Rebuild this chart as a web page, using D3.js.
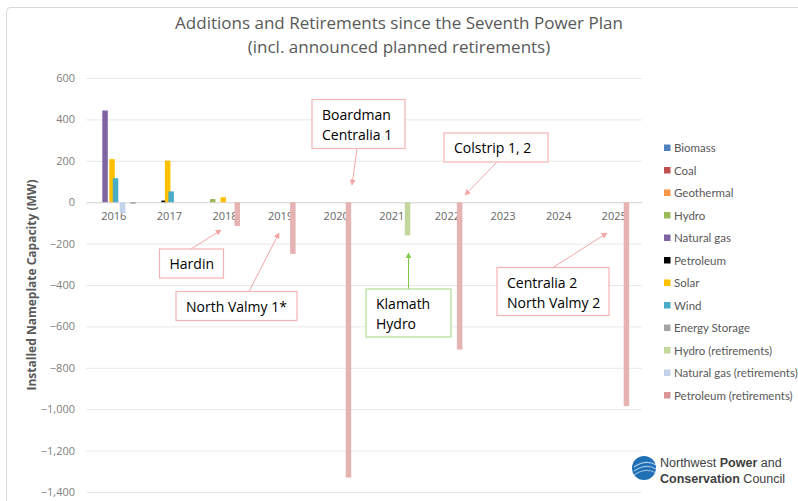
<!DOCTYPE html>
<html>
<head>
<meta charset="utf-8">
<script src="https://cdn.jsdelivr.net/npm/d3@7"></script>
<style>
  body { margin: 0; background: #fff; }
  svg { font-family: "Open Sans", "Noto Sans", sans-serif; }
</style>
</head>
<body>
<div id="chart"></div>
<script>
// years on the category axis
var years = ['2016', '2017', '2018', '2019', '2020', '2021', '2022', '2023', '2024', '2025'];

// legend order
var legendNames = ['Biomass', 'Coal', 'Geothermal', 'Hydro', 'Natural gas', 'Petroleum', 'Solar', 'Wind',
  'Energy Storage', 'Hydro (retirements)', 'Natural gas (retirements)', 'Petroleum (retirements)'];

// order of the bars inside a year (one unlisted empty slot in the original)
var plotOrder = ['Biomass', 'Coal', 'Geothermal', 'Hydro', 'Natural gas', 'Petroleum', 'Solar', 'Wind',
  '(blank)', 'Natural gas (retirements)', 'Petroleum (retirements)', 'Hydro (retirements)', 'Energy Storage'];

var colors = ['#4f81bd', '#c0504d', '#f79646', '#9bbb59', '#8064a2', '#000000', '#ffc000', '#4bacc6',
  '#a5a5a5', '#c3d69b', '#c5d3ea', '#d99694'];

// MW per year, same order as years
var biomass      = [0, 0, 0, 0, 0, 0, 0, 0, 0, 0];
var coal         = [0, 0, 0, 0, 0, 0, 0, 0, 0, 0];
var geothermal   = [0, 0, 0, 0, 0, 0, 0, 0, 0, 0];
var hydro        = [0, 0, 15, 0, 0, 0, 0, 0, 0, 0];
var naturalGas   = [443, 0, 0, 0, 0, 0, 0, 0, 0, 0];
var petroleum    = [0, 8, 0, 0, 0, 0, 0, 0, 0, 0];
var solar        = [208, 201, 24, 0, 0, 0, 0, 0, 0, 0];
var wind         = [116, 52, 0, 0, 0, 0, 0, 0, 0, 0];
var storage      = [-5, 0, 0, 0, 0, 0, 0, 0, 0, 0];
var hydroRet     = [0, 0, 0, 0, 0, -160, 0, 0, 0, 0];
var gasRet       = [-52, 0, 0, 0, 0, 0, 0, 0, 0, 0];
var petroleumRet = [0, 0, -115, -250, -1330, 0, -712, 0, 0, -985];

var seriesValues = [biomass, coal, geothermal, hydro, naturalGas, petroleum, solar, wind,
  storage, hydroRet, gasRet, petroleumRet];

var yTicks = [600, 400, 200, 0, -200, -400, -600, -800, -1000, -1200, -1400];

var titleLines = ['Additions and Retirements since the Seventh Power Plan', '(incl. announced planned retirements)'];
var yTitle = 'Installed Nameplate Capacity (MW)';

// callout boxes: label lines, the year they point at
var callouts = [
  { lines: ['Boardman', 'Centralia 1'], year: '2020', color: '#f4b4b4' },
  { lines: ['Colstrip 1, 2'], year: '2022', color: '#f4b4b4' },
  { lines: ['Hardin'], year: '2018', color: '#f4b4b4' },
  { lines: ['North Valmy 1*'], year: '2019', color: '#f4b4b4' },
  { lines: ['Klamath', 'Hydro'], year: '2021', color: '#b4dc96' },
  { lines: ['Centralia 2', 'North Valmy 2'], year: '2025', color: '#f4b4b4' }
];

var W = 798, H = 501;
var svg = d3.select('#chart').append('svg').attr('width', W).attr('height', H);

// outer frame
svg.append('rect').attr('x', 6.5).attr('y', 7.5).attr('width', 820).attr('height', 520)
  .attr('rx', 4).attr('fill', 'none').attr('stroke', '#d9d9d9');

var x = d3.scaleBand().domain(years).range([86, 642]);
var y = d3.scaleLinear().domain([-1400, 600]).range([492, 78]);
var inner = d3.scaleBand().domain(plotOrder).range([-24.5 + x.bandwidth() / 2, 21 + x.bandwidth() / 2]);
var barW = 5.5;

// title
svg.append('g').selectAll('text').data(titleLines).join('text')
  .attr('x', 399).attr('y', function (d, i) { return 29 + i * 24; })
  .attr('text-anchor', 'middle').attr('font-size', 17).attr('fill', '#595959')
  .text(function (d) { return d; });

// gridlines + y labels
var yAxis = svg.append('g').attr('transform', 'translate(86,0)')
  .call(d3.axisLeft(y).tickValues(yTicks).tickSize(-556).tickFormat(d3.format(',')));
yAxis.select('.domain').remove();
yAxis.selectAll('.tick line').attr('stroke', '#e8e8e8');
yAxis.selectAll('.tick text').attr('x', -11).attr('fill', '#808080')
  .style('font-size', '11px').style('font-family', '"Open Sans", sans-serif');

svg.append('text')
  .attr('transform', 'translate(36,285) rotate(-90)')
  .attr('text-anchor', 'middle').attr('font-size', 12).attr('font-weight', 'bold').attr('fill', '#595959')
  .text(yTitle);

// x labels sit just under zero
var xAxis = svg.append('g').attr('transform', 'translate(0,' + y(0) + ')')
  .call(d3.axisBottom(x).tickSize(0).tickPadding(10));
xAxis.select('.domain').attr('stroke', '#d9d9d9');
xAxis.selectAll('.tick text').attr('fill', '#666666')
  .style('font-size', '11px').style('font-family', '"Open Sans", sans-serif');

// bars
var rows = [];
legendNames.forEach(function (name, s) {
  seriesValues[s].forEach(function (v, i) {
    if (v !== 0) rows.push({ name: name, year: years[i], value: v, color: colors[s] });
  });
});
svg.append('g').selectAll('rect').data(rows).join('rect')
  .attr('x', function (d) { return x(d.year) + inner(d.name) + inner.bandwidth() / 2 - barW / 2; })
  .attr('width', barW)
  .attr('y', function (d) { return y(Math.max(0, d.value)); })
  .attr('height', function (d) { return Math.max(1.5, Math.abs(y(d.value) - y(0))); })
  .attr('fill', function (d) {
    return d.name === 'Petroleum (retirements)' ? '#e6b3b3' : d.color;
  });

// legend
var legend = svg.append('g').selectAll('g').data(legendNames).join('g')
  .attr('transform', function (d, i) { return 'translate(664,' + (148 + i * 22.5) + ')'; });
legend.append('rect').attr('x', 0).attr('y', -3.5).attr('width', 6.5).attr('height', 6.5)
  .attr('fill', function (d, i) { return colors[i]; });
legend.append('text').attr('x', 10).attr('y', 4).attr('fill', '#595959')
  .style('font-size', '11.5px').style('font-family', 'Lato, sans-serif')
  .text(function (d) { return d; });

// callouts
svg.append('defs').selectAll('marker').data(['pink', 'green']).join('marker')
  .attr('id', function (d) { return 'arrow-' + d; })
  .attr('viewBox', '0 0 10 10').attr('refX', 9).attr('refY', 5)
  .attr('markerWidth', 6).attr('markerHeight', 6).attr('orient', 'auto')
  .append('path').attr('d', 'M0,0 L10,5 L0,10 z')
  .attr('fill', function (d) { return d === 'pink' ? '#f4a6a6' : '#7ccc44'; });

var boxes = [
  { x0: 312, y0: 99.5, w: 93, h: 49, from: [357, 148.5], to: [352, 185] },
  { x0: 444, y0: 133, w: 104, h: 29, from: [497, 162], to: [465, 195] },
  { x0: 159.5, y0: 249, w: 64, h: 29, from: [191, 249], to: [221, 230] },
  { x0: 176, y0: 291.5, w: 121, h: 29, from: [249, 291.5], to: [279, 233] },
  { x0: 366, y0: 289, w: 85, h: 48, from: [408.5, 289], to: [408.5, 253] },
  { x0: 497, y0: 267.5, w: 112, h: 48, from: [553, 267.5], to: [607, 233] }
];

var cg = svg.append('g').selectAll('g').data(callouts).join('g');
cg.append('line')
  .attr('x1', function (d, i) { return boxes[i].from[0]; })
  .attr('y1', function (d, i) { return boxes[i].from[1]; })
  .attr('x2', function (d, i) { return boxes[i].to[0]; })
  .attr('y2', function (d, i) { return boxes[i].to[1]; })
  .attr('stroke', function (d) { return d.year === '2021' ? '#7ccc44' : '#f4a6a6'; })
  .attr('stroke-width', 1)
  .attr('marker-end', function (d) { return d.year === '2021' ? 'url(#arrow-green)' : 'url(#arrow-pink)'; });
cg.append('rect')
  .attr('x', function (d, i) { return boxes[i].x0; })
  .attr('y', function (d, i) { return boxes[i].y0; })
  .attr('width', function (d, i) { return boxes[i].w; })
  .attr('height', function (d, i) { return boxes[i].h; })
  .attr('fill', '#fff').attr('stroke', function (d) { return d.color; }).attr('stroke-width', 1.2);
cg.each(function (d, i) {
  var b = boxes[i];
  d3.select(this).selectAll('text.lbl').data(d.lines).join('text')
    .attr('class', 'lbl')
    .attr('x', b.x0 + 10)
    .attr('y', function (t, j) { return b.y0 + 20 + j * 20; })
    .attr('font-size', 14).attr('fill', '#000')
    .text(function (t) { return t; });
});

// logo
var logo = svg.append('g');
logo.append('circle').attr('cx', 644).attr('cy', 468).attr('r', 12).attr('fill', '#1f6fb5');
[[-3, 0.6], [1, 0.5], [5, 0.4]].forEach(function (p) {
  logo.append('path')
    .attr('d', 'M' + 634 + ',' + (470 + p[0]) + ' Q 646,' + (462 + p[0]) + ' 656,' + (468 + p[0]))
    .attr('fill', 'none').attr('stroke', '#bcd9f0').attr('stroke-width', 1.3).attr('opacity', p[1] + 0.3);
});
var lt1 = logo.append('text').attr('x', 660).attr('y', 467).attr('fill', '#404040')
  .style('font-size', '12.5px').style('font-family', '"Liberation Sans", Arial, sans-serif');
lt1.append('tspan').text('Northwest ');
lt1.append('tspan').attr('font-weight', 'bold').text('Power');
lt1.append('tspan').text(' and');
var lt2 = logo.append('text').attr('x', 660).attr('y', 483).attr('fill', '#404040')
  .style('font-size', '12.5px').style('font-family', '"Liberation Sans", Arial, sans-serif');
lt2.append('tspan').attr('font-weight', 'bold').text('Conservation');
lt2.append('tspan').text(' Council');
</script>
</body>
</html>
